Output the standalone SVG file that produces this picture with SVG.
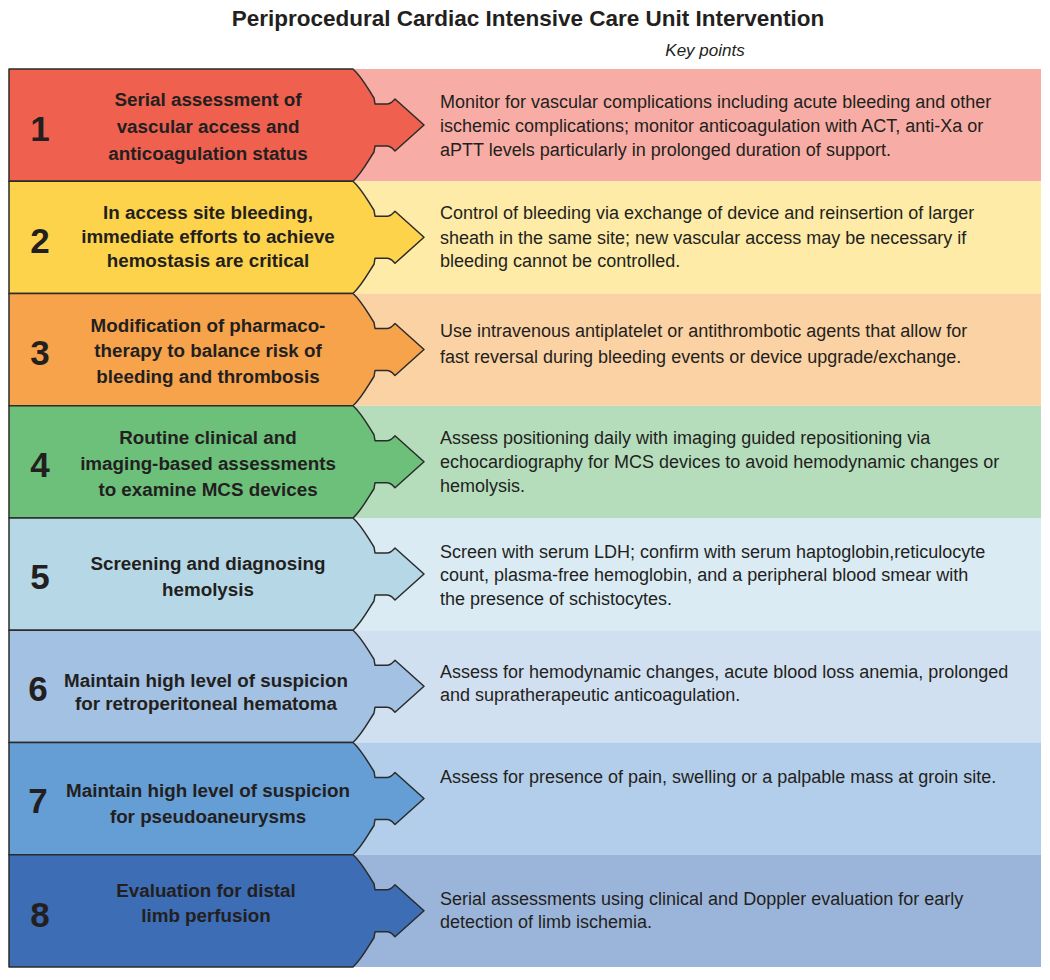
<svg xmlns="http://www.w3.org/2000/svg" width="1050" height="980" viewBox="0 0 1050 980">
<defs>
<style>
.title{font-family:"Liberation Sans",Arial,sans-serif;font-weight:bold;font-size:22.5px;fill:#231F20;text-anchor:middle}
.kp{font-family:"Liberation Sans",Arial,sans-serif;font-style:italic;font-size:17px;fill:#231F20;text-anchor:middle}
.num{font-family:"Liberation Sans",Arial,sans-serif;font-weight:bold;font-size:35px;fill:#231F20;text-anchor:middle}
.lab{font-family:"Liberation Sans",Arial,sans-serif;font-weight:bold;font-size:18.8px;fill:#231F20;text-anchor:middle}
.txt{font-family:"Liberation Sans",Arial,sans-serif;font-size:18px;fill:#231F20}
.shape{stroke:#2b2b2b;stroke-width:1.5;stroke-linejoin:round}
</style>
<path id="arrow" d="M9,0 L353,0 C362,8 368,20 374,29 L375,35 L387,35 C391,35 393,32 395,30 L424,56 L395,82 C393,80 391,77 387,77 L375,77 L374,83 C368,92 362,104 353,112.25 L9,112.25 Z"/>
</defs>
<text class="title" x="528" y="26">Periprocedural Cardiac Intensive Care Unit Intervention</text>
<text class="kp" x="705" y="56">Key points</text>

<g id="row1">
<rect x="340" y="69" width="701" height="112.25" fill="#F7ADA5"/>
<use href="#arrow" x="0" y="69" class="shape" fill="#F0604F"/>
<text class="num" x="40" y="141">1</text>
<text class="lab" x="208" y="106">Serial assessment of</text>
<text class="lab" x="208" y="133">vascular access and</text>
<text class="lab" x="208" y="160">anticoagulation status</text>
<text class="txt" x="440" y="108">Monitor for vascular complications including acute bleeding and other</text>
<text class="txt" x="440" y="132">ischemic complications; monitor anticoagulation with ACT, anti-Xa or</text>
<text class="txt" x="440" y="156">aPTT levels particularly in prolonged duration of support.</text>
</g>

<g id="row2">
<rect x="340" y="181.25" width="701" height="112.25" fill="#FDEBA7"/>
<use href="#arrow" x="0" y="181.25" class="shape" fill="#FDD34B"/>
<text class="num" x="40" y="253">2</text>
<text class="lab" x="208" y="219">In access site bleeding,</text>
<text class="lab" x="208" y="243">immediate efforts to achieve</text>
<text class="lab" x="208" y="267">hemostasis are critical</text>
<text class="txt" x="440" y="219">Control of bleeding via exchange of device and reinsertion of larger</text>
<text class="txt" x="440" y="244">sheath in the same site; new vascular access may be necessary if</text>
<text class="txt" x="440" y="267">bleeding cannot be controlled.</text>
</g>

<g id="row3">
<rect x="340" y="293.5" width="701" height="112.25" fill="#FBD2A4"/>
<use href="#arrow" x="0" y="293.5" class="shape" fill="#F7A34B"/>
<text class="num" x="40" y="365">3</text>
<text class="lab" x="208" y="332">Modification of pharmaco-</text>
<text class="lab" x="208" y="357">therapy to balance risk of</text>
<text class="lab" x="208" y="383">bleeding and thrombosis</text>
<text class="txt" x="440" y="337">Use intravenous antiplatelet or antithrombotic agents that allow for</text>
<text class="txt" x="440" y="363">fast reversal during bleeding events or device upgrade/exchange.</text>
</g>

<g id="row4">
<rect x="340" y="405.75" width="701" height="112.25" fill="#B5DDBC"/>
<use href="#arrow" x="0" y="405.75" class="shape" fill="#6CC07A"/>
<text class="num" x="40" y="477">4</text>
<text class="lab" x="208" y="444">Routine clinical and</text>
<text class="lab" x="208" y="470">imaging-based assessments</text>
<text class="lab" x="208" y="496">to examine MCS devices</text>
<text class="txt" x="440" y="444">Assess positioning daily with imaging guided repositioning via</text>
<text class="txt" x="440" y="468">echocardiography for MCS devices to avoid hemodynamic changes or</text>
<text class="txt" x="440" y="492">hemolysis.</text>
</g>

<g id="row5">
<rect x="340" y="518" width="701" height="112.25" fill="#DAEBF4"/>
<use href="#arrow" x="0" y="518" class="shape" fill="#B6D7E6"/>
<text class="num" x="40" y="589">5</text>
<text class="lab" x="208" y="570">Screening and diagnosing</text>
<text class="lab" x="208" y="596">hemolysis</text>
<text class="txt" x="440" y="558">Screen with serum LDH; confirm with serum haptoglobin,reticulocyte</text>
<text class="txt" x="440" y="581">count, plasma-free hemoglobin, and a peripheral blood smear with</text>
<text class="txt" x="440" y="605">the presence of schistocytes.</text>
</g>

<g id="row6">
<rect x="340" y="630.25" width="701" height="112.25" fill="#D1E0F1"/>
<use href="#arrow" x="0" y="630.25" class="shape" fill="#A3C1E3"/>
<text class="num" x="38" y="701">6</text>
<text class="lab" x="206" y="687">Maintain high level of suspicion</text>
<text class="lab" x="206" y="710">for retroperitoneal hematoma</text>
<text class="txt" x="440" y="678">Assess for hemodynamic changes, acute blood loss anemia, prolonged</text>
<text class="txt" x="440" y="701">and supratherapeutic anticoagulation.</text>
</g>

<g id="row7">
<rect x="340" y="742.5" width="701" height="112.25" fill="#B3CEEA"/>
<use href="#arrow" x="0" y="742.5" class="shape" fill="#659DD5"/>
<text class="num" x="38" y="813">7</text>
<text class="lab" x="208" y="797">Maintain high level of suspicion</text>
<text class="lab" x="208" y="823">for pseudoaneurysms</text>
<text class="txt" x="440" y="783">Assess for presence of pain, swelling or a palpable mass at groin site.</text>
</g>

<g id="row8">
<rect x="340" y="854.75" width="701" height="112.25" fill="#9BB5DA"/>
<use href="#arrow" x="0" y="854.75" class="shape" fill="#3C6DB5"/>
<text class="num" x="40" y="927">8</text>
<text class="lab" x="206" y="897">Evaluation for distal</text>
<text class="lab" x="206" y="922">limb perfusion</text>
<text class="txt" x="440" y="905">Serial assessments using clinical and Doppler evaluation for early</text>
<text class="txt" x="440" y="928">detection of limb ischemia.</text>
</g>
</svg>
